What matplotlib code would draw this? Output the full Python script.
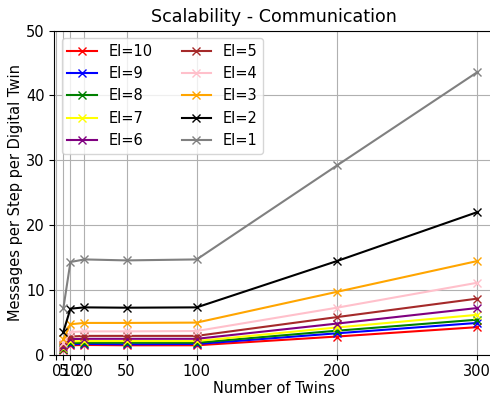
import matplotlib
matplotlib.use("Agg")
import matplotlib.pyplot as plt

plt.rcParams["font.size"] = 10.5

# Number of twins (x values)
twins = [5, 10, 20, 50, 100, 200, 300]
xticks = [0, 5, 10, 20, 50, 100, 200, 300]

# Messages per step per digital twin for each EI setting
ei10 = [0.70, 1.45, 1.50, 1.45, 1.45, 2.80, 4.25]
ei9 = [0.80, 1.60, 1.65, 1.60, 1.65, 3.30, 4.90]
ei8 = [0.90, 1.80, 1.85, 1.85, 1.85, 3.70, 5.40]
ei7 = [1.05, 2.05, 2.10, 2.10, 2.10, 4.20, 6.15]
ei6 = [1.20, 2.40, 2.45, 2.45, 2.45, 4.80, 7.20]
ei5 = [1.45, 2.80, 2.90, 2.90, 2.90, 5.80, 8.65]
ei4 = [1.80, 3.50, 3.60, 3.60, 3.65, 7.25, 11.1]
ei3 = [2.40, 4.70, 4.90, 4.90, 4.95, 9.70, 14.45]
ei2 = [3.55, 7.10, 7.30, 7.25, 7.30, 14.45, 22.0]
ei1 = [7.20, 14.30, 14.70, 14.55, 14.70, 29.20, 43.60]

series = [
    ("EI=10", ei10, "red"),
    ("EI=9", ei9, "blue"),
    ("EI=8", ei8, "green"),
    ("EI=7", ei7, "yellow"),
    ("EI=6", ei6, "purple"),
    ("EI=5", ei5, "brown"),
    ("EI=4", ei4, "pink"),
    ("EI=3", ei3, "orange"),
    ("EI=2", ei2, "black"),
    ("EI=1", ei1, "gray"),
]

fig = plt.figure(figsize=(4.9, 3.97), dpi=100)
# right edge runs slightly past the image, as in the reference
ax = fig.add_axes([0.1108, 0.1066, 0.8967, 0.8161])

for label, values, color in series:
    ax.plot(twins, values, marker="x", color=color, label=label)

ax.set_xticks(xticks)
ax.set_xlim(-1.5, 311.7)
ax.set_ylim(0, 50)
ax.set_xlabel("Number of Twins", labelpad=1)
ax.set_ylabel("Messages per Step per Digital Twin", labelpad=2)
ax.set_title("Scalability - Communication")
ax.grid(True)
ax.legend(loc="upper left", ncol=2)

fig.savefig("out.png", dpi=100)
